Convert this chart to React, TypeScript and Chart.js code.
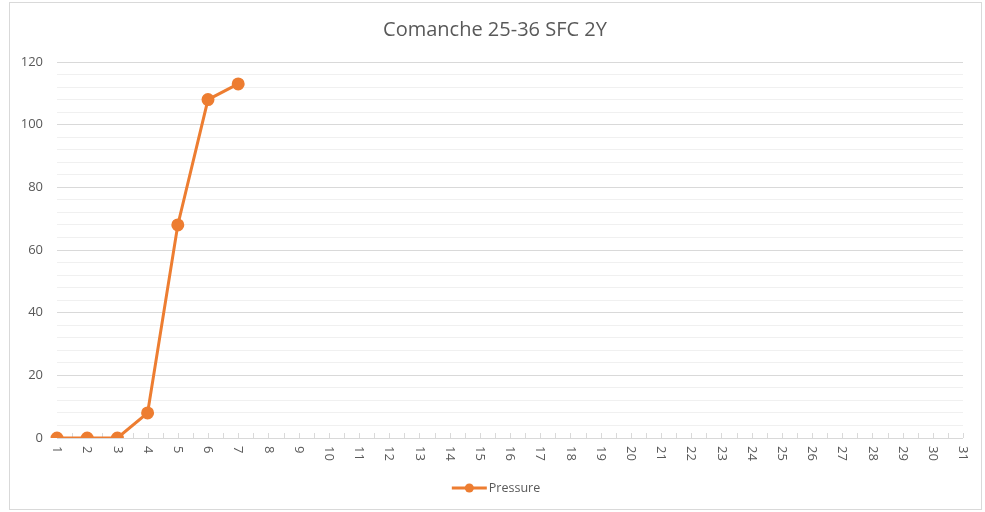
import React, { useEffect, useRef } from "react";
import { Chart, registerables } from "chart.js";

Chart.register(...registerables);

const TITLE = "Comanche 25-36 SFC 2Y";
const SERIES_LABEL = "Pressure";
const DAYS = [
  "1", "2", "3", "4", "5", "6", "7", "8", "9", "10",
  "11", "12", "13", "14", "15", "16", "17", "18", "19", "20",
  "21", "22", "23", "24", "25", "26", "27", "28", "29", "30", "31",
];
const PRESSURE = [0, 0, 0, 8, 68, 108, 113];
const Y_MIN = 0;
const Y_MAX = 120;
const Y_MAJOR = 20;
const Y_MINOR = 4;

const FONT = "'Open Sans', 'Liberation Sans', sans-serif";
const TEXT = "#595959";
const ORANGE = "#ED7D31";
const MAJOR_GRID = "#d9d9d9";
const MINOR_GRID = "#f0f0f0";

const excelPlugin = {
  id: "excelLook",
  beforeDatasetsDraw(chart: any) {
    const ctx = chart.ctx;
    const x = chart.scales.x;
    const area = chart.chartArea;
    ctx.save();
    ctx.strokeStyle = MAJOR_GRID;
    ctx.lineWidth = 1;
    const n = (chart.data.labels.length - 1) * 2;
    for (let i = 0; i <= n; i++) {
      const px = Math.round(x.getPixelForValue(i / 2)) + 0.5;
      ctx.beginPath();
      ctx.moveTo(px, area.bottom);
      ctx.lineTo(px, area.bottom - 5);
      ctx.stroke();
    }
    ctx.restore();
  },
  afterDraw(chart: any) {
    const ctx = chart.ctx;
    const x = chart.scales.x;
    const area = chart.chartArea;
    ctx.save();
    // title
    ctx.fillStyle = TEXT;
    ctx.font = `20px ${FONT}`;
    ctx.textAlign = "center";
    ctx.textBaseline = "middle";
    ctx.fillText(TITLE, 495, 30);
    // x labels
    ctx.font = `13px ${FONT}`;
    ctx.textAlign = "left";
    ctx.textBaseline = "middle";
    (chart.data.labels as string[]).forEach((l, i) => {
      const px = x.getPixelForValue(i);
      ctx.save();
      ctx.translate(px, area.bottom + 8);
      ctx.rotate(Math.PI / 2);
      ctx.fillText(l, 0, 0);
      ctx.restore();
    });
    // legend
    const label = chart.data.datasets[0].label as string;
    ctx.font = `12.5px ${FONT}`;
    const tw = ctx.measureText(label).width;
    const lineW = 35;
    const total = lineW + 2 + tw;
    const cx = 496;
    const left = cx - total / 2;
    const ly = 488;
    ctx.strokeStyle = ORANGE;
    ctx.lineWidth = 3;
    ctx.beginPath();
    ctx.moveTo(left, ly);
    ctx.lineTo(left + lineW, ly);
    ctx.stroke();
    ctx.fillStyle = ORANGE;
    ctx.beginPath();
    ctx.arc(left + lineW / 2, ly, 4.5, 0, Math.PI * 2);
    ctx.fill();
    ctx.fillStyle = TEXT;
    ctx.fillText(label, left + lineW + 2, ly);
    ctx.restore();
  },
};

export default function App() {
  const ref = useRef<HTMLCanvasElement | null>(null);
  useEffect(() => {
    if (!ref.current) return;
    const chart = new Chart(ref.current, {
      type: "line",
      data: {
        labels: DAYS,
        datasets: [
          {
            label: SERIES_LABEL,
            data: PRESSURE,
            borderColor: ORANGE,
            backgroundColor: ORANGE,
            borderWidth: 3,
            pointRadius: 5,
            pointHoverRadius: 5,
            pointBackgroundColor: ORANGE,
            pointBorderColor: ORANGE,
            tension: 0,
          },
        ],
      },
      options: {
        animation: false,
        responsive: false,
        devicePixelRatio: 1,
        layout: { padding: { left: 0, right: 22, top: 62, bottom: 44 } },
        plugins: {
          legend: { display: false },
          tooltip: { enabled: false },
          title: { display: false },
        },
        scales: {
          x: {
            type: "category",
            offset: false,
            grid: { display: false },
            border: { display: false },
            ticks: { display: false },
            afterFit: (s: any) => {
              s.height = 30;
            },
          },
          y: {
            min: Y_MIN,
            max: Y_MAX,
            border: { display: false },
            grid: {
              drawTicks: false,
              color: (c: any) =>
                c.tick && c.tick.value % Y_MAJOR === 0 ? MAJOR_GRID : MINOR_GRID,
            },
            ticks: {
              stepSize: Y_MINOR,
              autoSkip: false,
              padding: 14,
              color: TEXT,
              font: { family: FONT, size: 13 },
              callback: (v: any) => (Number(v) % Y_MAJOR === 0 ? String(v) : ""),
            },
            afterFit: (s: any) => {
              s.width = 57;
            },
          },
        },
      },
      plugins: [excelPlugin],
    });
    return () => chart.destroy();
  }, []);

  return (
    <div
      style={{
        position: "fixed",
        left: 0,
        top: 0,
        width: 985,
        height: 512,
        background: "#fff",
      }}
    >
      <div
        style={{
          position: "absolute",
          left: 9,
          top: 2,
          width: 973,
          height: 508,
          boxSizing: "border-box",
          border: "1px solid #d9d9d9",
        }}
      />
      <canvas
        ref={ref}
        width={985}
        height={512}
        style={{ position: "absolute", left: 0, top: 0, width: 985, height: 512 }}
      />
    </div>
  );
}
